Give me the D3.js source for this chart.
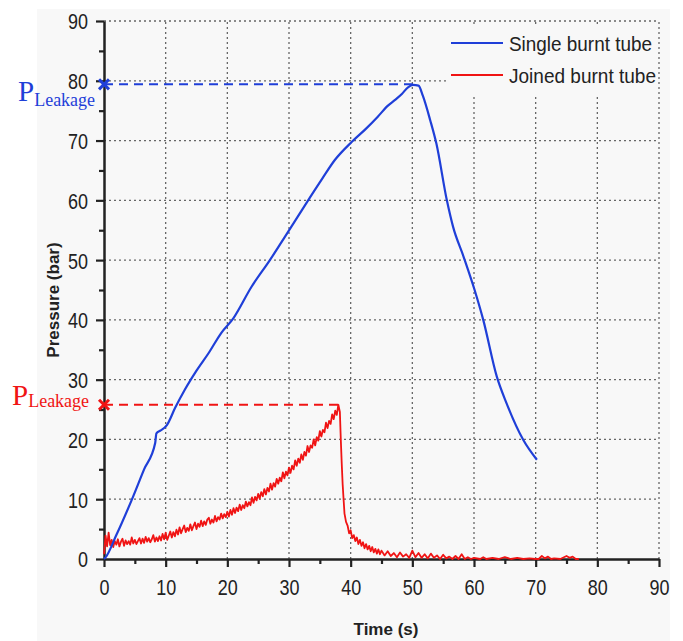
<!DOCTYPE html>
<html><head><meta charset="utf-8">
<script src="https://cdn.jsdelivr.net/npm/d3@7"></script>
<style>
html,body{margin:0;padding:0;background:#fff;}
svg{display:block;}
</style></head>
<body>
<svg id="c" width="683" height="641"></svg>
<script>
// ---- data ----
const xTicks = [0,10,20,30,40,50,60,70,80,90];
const yTicks = [0,10,20,30,40,50,60,70,80,90];
const seriesNames = ["Single burnt tube","Joined burnt tube"];
const seriesColors = ["#1f3fd8","#f01414"];

const timeSingle = [0,0.2,2,4.5,6.5,8.3,8.5,9.2,10.2,11.5,13.1,15,17,19,21,23.9,26.9,29.9,33.1,35.5,37.4,40.2,42.5,44.4,46,47.2,48.3,49.3,50.1,51,51.7,52.9,53.9,55.6,56.6,58.3,60.1,61.5,63.7,65.3,68,70.2];
const pressureSingle = [0,0.2,4,9.9,15,19.4,21,21.5,22.4,25.2,28.3,31.5,34.5,37.8,40.3,45.5,50,54.8,60,63.8,66.7,69.8,72,74,75.8,76.8,77.8,78.9,79.3,79.2,77.5,73.4,69.5,60,55.6,50.6,45,40,30.5,26,19.9,16.6];

const timeJoined = [
0,0.25,0.5,0.75, 1,1.25,1.5,1.75, 2,2.25,2.5,2.75, 3,3.25,3.5,3.75, 4,4.25,4.5,4.75,
5,5.25,5.5,5.75, 6,6.25,6.5,6.75, 7,7.25,7.5,7.75, 8,8.25,8.5,8.75, 9,9.25,9.5,9.75,
10,10.25,10.5,10.75, 11,11.25,11.5,11.75, 12,12.25,12.5,12.75, 13,13.25,13.5,13.75, 14,14.25,14.5,14.75,
15,15.25,15.5,15.75, 16,16.25,16.5,16.75, 17,17.25,17.5,17.75, 18,18.25,18.5,18.75, 19,19.25,19.5,19.75,
20,20.25,20.5,20.75, 21,21.25,21.5,21.75, 22,22.25,22.5,22.75, 23,23.25,23.5,23.75, 24,24.25,24.5,24.75,
25,25.25,25.5,25.75, 26,26.25,26.5,26.75, 27,27.25,27.5,27.75, 28,28.25,28.5,28.75, 29,29.25,29.5,29.75,
30,30.25,30.5,30.75, 31,31.25,31.5,31.75, 32,32.25,32.5,32.75, 33,33.25,33.5,33.75, 34,34.25,34.5,34.75,
35,35.25,35.5,35.75, 36,36.25,36.5,36.75, 37,37.25,37.5,37.75, 38,
38.25,38.4,38.55,38.7,38.85,39,39.25,39.5,39.75, 40,40.25,40.5,40.75, 41,41.25,41.5,41.75, 42,42.25,42.5,42.75,
43,43.25,43.5,43.75, 44,44.25,44.5,44.75, 45,45.5,46,46.5,47,47.5,48,48.5,49,49.5,
50,50.5,51,51.5,52,52.5,53,53.5,54,54.5,55,55.5,56,56.5,57,57.5,58,58.5,59,59.5,
60,61,61.5,62,63,64,65,66,67,68,69,70,70.5,71,71.5,72,72.5,73,74,75,75.5,76,76.5,77];
const pressureJoined = [
0.8,3.9,2.1,4.4, 2.3,3.2,2.0,3.0, 2.4,3.3,2.1,2.9, 3.4,2.2,3.1,2.5, 3.0,2.4,3.6,2.6,
3.2,2.5,3.0,3.5, 2.6,3.4,2.7,3.7, 2.9,3.5,2.8,3.3, 4.0,2.9,3.6,3.0, 3.8,3.1,4.2,3.3,
4.4,3.2,3.9,4.6, 3.6,4.5,3.8,4.9, 4.1,5.3,4.3,5.0, 5.6,4.5,5.2,4.7, 5.8,4.8,5.5,6.1,
5.0,5.9,5.4,6.4, 5.5,6.3,5.7,6.6, 6.9,5.9,6.6,6.1, 7.2,6.3,7.0,6.6, 7.6,6.8,7.5,7.0,
7.9,7.1,8.2,7.4, 8.5,7.7,8.6,8.0, 9.1,8.2,9.0,8.5, 9.6,8.8,9.5,9.0, 10.3,9.4,10.4,9.8,
10.9,10.1,11.2,10.5, 11.7,10.8,11.9,11.3, 12.6,11.6,12.7,12.1, 13.4,12.6,13.6,13.0, 14.5,13.5,14.6,14.0,
15.3,14.4,15.6,15.0, 16.5,15.6,16.8,16.1, 17.5,16.6,17.9,17.3, 18.9,17.9,19.0,18.6, 20.0,19.0,20.4,19.8,
21.4,20.5,21.6,21.2, 22.8,21.9,23.1,22.6, 24.2,23.4,24.8,24.1, 25.8,
24.6,20.0,16.0,12.5,10.0,7.6,6.2,5.6,4.3, 4.8,3.5,4.0,3.0, 3.6,2.5,3.2,2.2, 2.8,1.8,2.5,1.6,
2.2,1.3,2.0,1.1, 1.7,0.9,1.6,0.8, 1.4,0.6,1.3,0.5,1.0,0.3,1.1,0.4,0.8,0.2,
1.4,0.3,1.0,0.2,0.8,0.1,0.9,0.2,0.6,0.0,0.7,0.1,0.4,0.0,0.5,0.0,0.8,0.0,0.3,0.0,
0.2,0.0,0.3,0.0,0.2,0.0,0.3,0.0,0.2,0.0,0.1,0.0,0.0,0.5,0.1,0.4,0.0,0.1,0.0,0.5,0.2,0.4,0.0,0.0];

// leakage annotations: [time, pressure]
const leakSingle = [50.1, 79.4];
const leakJoined = [38.1, 25.8];

// ---- layout ----
const svg = d3.select("#c");
const X0 = 104, X1 = 659, Y0 = 559, Y1 = 21;
const x = d3.scaleLinear().domain([0,90]).range([X0,X1]);
const y = d3.scaleLinear().domain([0,90]).range([Y0,Y1]);

// panel background
svg.append("rect").attr("x",37).attr("y",9).attr("width",633).attr("height",632).attr("fill","#f8f8f8");

// grid
const grid = svg.append("g").attr("stroke","#666").attr("stroke-width",1.3).attr("stroke-dasharray","2,3");
yTicks.filter(d=>d>0).forEach(d=>{
  grid.append("line").attr("x1",X0).attr("x2",X1).attr("y1",y(d)).attr("y2",y(d));
});
xTicks.filter(d=>d>0).forEach(d=>{
  grid.append("line").attr("x1",x(d)).attr("x2",x(d)).attr("y1",Y0).attr("y2",Y1);
});

// legend box (covers grid)
svg.append("rect").attr("x",447).attr("y",24).attr("width",209).attr("height",72).attr("fill","#f8f8f8");

const sansFont = "'Liberation Sans',Arial,sans-serif";

// axes
const xAxis = d3.axisBottom(x).tickValues(d3.range(0,91,5)).tickSize(0).tickFormat(d=> d%10===0 ? d : "");
const gx = svg.append("g").attr("transform",`translate(0,${Y0})`).call(xAxis);
gx.select(".domain").attr("stroke","#222").attr("stroke-width",2.5);
gx.selectAll(".tick line").attr("stroke","#222").attr("stroke-width",2.2).attr("y2",d=> d%10===0?8:5);
gx.selectAll(".tick text").attr("y",36).attr("dy",null).attr("font-family",sansFont).attr("font-size",22).attr("fill","#222")
  .attr("textLength",d=> d%10===0 ? String(d).length*10 : null).attr("lengthAdjust","spacingAndGlyphs");

const yAxis = d3.axisLeft(y).tickValues(d3.range(0,91,5)).tickSize(0).tickFormat(d=> d%10===0 ? d : "");
const gy = svg.append("g").attr("transform",`translate(${X0},0)`).call(yAxis);
gy.select(".domain").attr("stroke","#222").attr("stroke-width",2.5);
gy.selectAll(".tick line").attr("stroke","#222").attr("stroke-width",2.2).attr("x2",d=> d%10===0?-8:-5);
gy.selectAll(".tick text").attr("x",-16).attr("dy","0.36em").attr("font-family",sansFont).attr("font-size",22).attr("fill","#222")
  .attr("textLength",d=> d%10===0 ? String(d).length*10 : null).attr("lengthAdjust","spacingAndGlyphs");

// axis titles
svg.append("text").attr("x",386).attr("y",635).attr("text-anchor","middle")
  .attr("font-family",sansFont).attr("font-weight","bold").attr("font-size",17).attr("fill","#222").text("Time (s)");
svg.append("text").attr("transform","translate(59,300) rotate(-90)").attr("text-anchor","middle")
  .attr("font-family",sansFont).attr("font-weight","bold").attr("font-size",17).attr("fill","#222").text("Pressure (bar)");

// lines
const singleData = timeSingle.map((t,i)=>[t,pressureSingle[i]]);
const joinedData = timeJoined.map((t,i)=>[t,pressureJoined[i]]);

svg.append("path").datum(joinedData)
  .attr("d",d3.line().x(d=>x(d[0])).y(d=>y(d[1])))
  .attr("fill","none").attr("stroke",seriesColors[1]).attr("stroke-width",1.8).attr("stroke-linejoin","round");
svg.append("path").datum(singleData)
  .attr("d",d3.line().curve(d3.curveMonotoneX).x(d=>x(d[0])).y(d=>y(d[1])))
  .attr("fill","none").attr("stroke",seriesColors[0]).attr("stroke-width",2.2).attr("stroke-linejoin","round");

// leakage annotations
function leak(pt, color, pBase, subDy, pX){
  svg.append("line").attr("x1",x(0)).attr("x2",x(pt[0])).attr("y1",y(pt[1])).attr("y2",y(pt[1]))
    .attr("stroke",color).attr("stroke-width",2).attr("stroke-dasharray","9,6");
  const cx = x(0), cy = y(pt[1]), s = 5;
  const g = svg.append("g").attr("stroke",color).attr("stroke-width",3);
  g.append("line").attr("x1",cx-s).attr("y1",cy-s).attr("x2",cx+s).attr("y2",cy+s);
  g.append("line").attr("x1",cx-s).attr("y1",cy+s).attr("x2",cx+s).attr("y2",cy-s);
  const t = svg.append("text").attr("x",pX).attr("y",cy+pBase).attr("font-family","'Liberation Serif','Times New Roman',serif").attr("fill",color);
  t.append("tspan").attr("font-size",29).text("P");
  t.append("tspan").attr("font-size",18).attr("dy",subDy).text("Leakage");
}
leak(leakSingle, seriesColors[0], 17, 5, 18);
leak(leakJoined, seriesColors[1], 0, 2, 12);

// legend
const leg = svg.append("g");
const legendWidths = [143,147];
seriesNames.forEach((n,i)=>{
  const ly = 43 + i*32;
  leg.append("line").attr("x1",451).attr("x2",503).attr("y1",ly).attr("y2",ly).attr("stroke",seriesColors[i]).attr("stroke-width",2.2);
  leg.append("text").attr("x",509).attr("y",ly).attr("dy","0.36em").attr("font-family",sansFont).attr("font-size",21).attr("fill","#222")
    .attr("textLength",legendWidths[i]).attr("lengthAdjust","spacingAndGlyphs").text(n);
});
</script>
</body></html>
